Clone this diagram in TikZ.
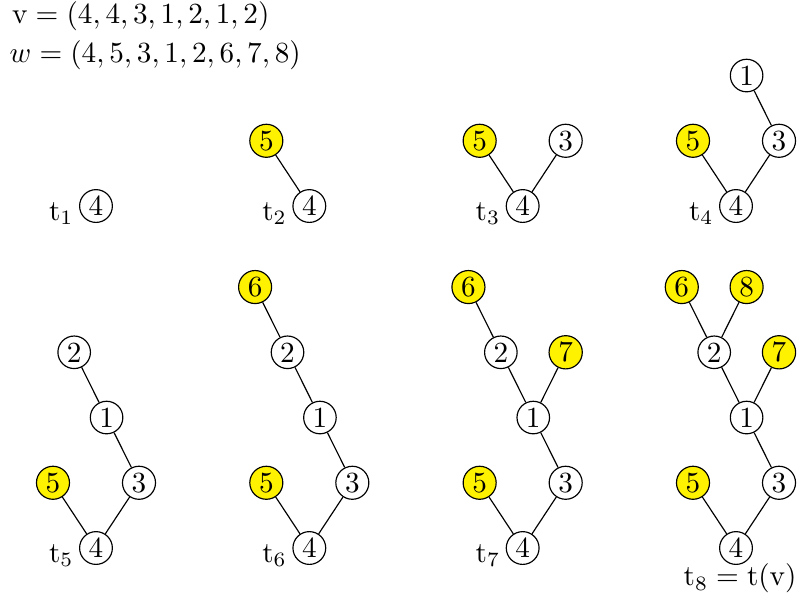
\documentclass[tikz,border=0pt]{standalone}
\usetikzlibrary{positioning}

\begin{document}
\begin{tikzpicture}[
    vert/.style={draw, circle, inner sep=1pt},
    newvert/.style={vert, fill=yellow},
    tlab/.style={anchor=base east, inner sep=0pt},
    txt/.style={anchor=base west, inner sep=0pt},
    grow'=up,
    level distance=0.785cm,
    level 1/.style={sibling distance=1.035cm},
    level 2/.style={sibling distance=0.78cm},
    level 3/.style={sibling distance=0.78cm},
    level 4/.style={sibling distance=0.78cm},
]
\useasboundingbox (0,0) rectangle (9.59,-7.292);

% ===== sequences =====
\node[txt] (vdef) at (0.14,-0.277) {$\mathrm{v}=(4,4,3,1,2,1,2)$};
\node[txt] (wdef) at (0.11,-0.758) {$w=(4,5,3,1,2,6,7,8)$};

% ===== TOP ROW =====
\node[vert] (t1-r) at (1.155,-2.479) {4};

\node[vert] (t2-r) at (3.722,-2.479) {4}
    child {node[newvert] (t2-5) {5}}
    child[missing];

\node[vert] (t3-r) at (6.289,-2.479) {4}
    child {node[newvert] (t3-5) {5}}
    child {node[vert] (t3-3) {3}};

\node[vert] (t4-r) at (8.856,-2.479) {4}
    child {node[newvert] (t4-5) {5}}
    child {node[vert] (t4-3) {3}
        child {node[vert] (t4-1) {1}}
        child[missing]
    };

% ===== BOTTOM ROW =====
\node[vert] (t5-r) at (1.155,-6.594) {4}
    child {node[newvert] (t5-5) {5}}
    child {node[vert] (t5-3) {3}
        child {node[vert] (t5-1) {1}
            child {node[vert] (t5-2) {2}}
            child[missing]
        }
        child[missing]
    };

\node[vert] (t6-r) at (3.722,-6.594) {4}
    child {node[newvert] (t6-5) {5}}
    child {node[vert] (t6-3) {3}
        child {node[vert] (t6-1) {1}
            child {node[vert] (t6-2) {2}
                child {node[newvert] (t6-6) {6}}
                child[missing]
            }
            child[missing]
        }
        child[missing]
    };

\node[vert] (t7-r) at (6.289,-6.594) {4}
    child {node[newvert] (t7-5) {5}}
    child {node[vert] (t7-3) {3}
        child {node[vert] (t7-1) {1}
            child {node[vert] (t7-2) {2}
                child {node[newvert] (t7-6) {6}}
                child[missing]
            }
            child {node[newvert] (t7-7) {7}}
        }
        child[missing]
    };

\node[vert] (t8-r) at (8.856,-6.594) {4}
    child {node[newvert] (t8-5) {5}}
    child {node[vert] (t8-3) {3}
        child {node[vert] (t8-1) {1}
            child {node[vert] (t8-2) {2}
                child {node[newvert] (t8-6) {6}}
                child {node[newvert] (t8-8) {8}}
            }
            child {node[newvert] (t8-7) {7}}
        }
        child[missing]
    };

% ===== tree labels =====
\foreach \i in {1,...,7}
    \node[tlab] (lab-\i) at ([xshift=-1.7pt, yshift=-4.8pt]t\i-r.west) {$\mathrm{t}_{\i}$};
\node[anchor=base, inner sep=0pt] (lab-8) at ([xshift=1.4pt, yshift=-13pt]t8-r.center)
    {$\mathrm{t}_8=\mathrm{t}(\mathrm{v})$};

\end{tikzpicture}
\end{document}
